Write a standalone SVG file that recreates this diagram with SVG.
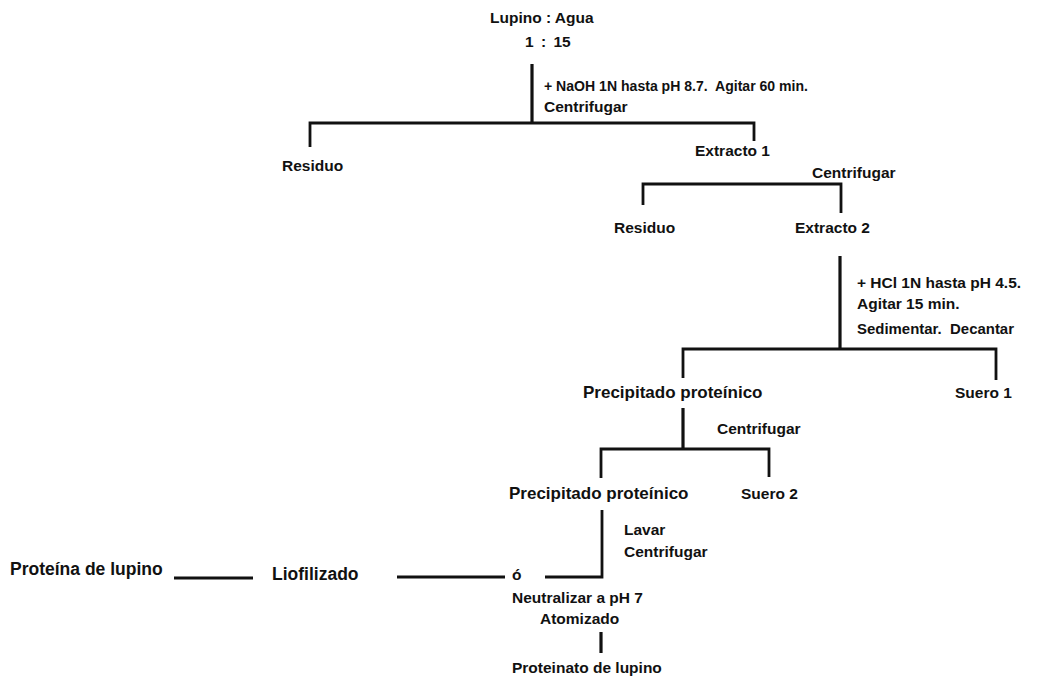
<svg xmlns="http://www.w3.org/2000/svg" width="1060" height="683" viewBox="0 0 1060 683">
<style>
text{font-family:"Liberation Sans",Arial,sans-serif;font-weight:bold;font-size:15.5px;fill:#111;}
.big{font-size:17px;}
.ln{stroke:#111;stroke-width:2.8;fill:none;stroke-linecap:butt;stroke-linejoin:miter;}
.st{stroke:#111;stroke-width:3.2;fill:none;}
</style>
<rect width="1060" height="683" fill="#fff"/>
<g id="connectors">
<path class="st" d="M532,64V123"/>
<path class="ln" d="M310,147V123H754V141"/>
<path class="ln" d="M643,205V184H841V213"/>
<path class="st" d="M840,256V349"/>
<path class="ln" d="M683,378V349H996V380"/>
<path class="st" d="M683,408V449"/>
<path class="ln" d="M601,478V449H769V477"/>
<path class="ln" d="M545,577H602V510"/>
<path class="ln" d="M397,577H505"/>
<path class="ln" d="M174,578H253"/>
<path class="st" d="M601,632V653"/>
</g>
<g id="n-start"><text x="490" y="23">Lupino : Agua</text><text x="525" y="47" style="word-spacing:3px">1 : 15</text></g>
<g id="step1"><text x="544" y="91" xml:space="preserve" textLength="264" lengthAdjust="spacingAndGlyphs">+ NaOH 1N hasta pH 8.7.  Agitar 60 min.</text><text x="544" y="112">Centrifugar</text></g>
<g id="residuo1"><text x="282" y="171">Residuo</text></g>
<g id="extracto1"><text x="695" y="156">Extracto 1</text></g>
<g id="step2"><text x="812" y="178">Centrifugar</text></g>
<g id="residuo2"><text x="614" y="233">Residuo</text></g>
<g id="extracto2"><text x="795" y="233">Extracto 2</text></g>
<g id="step3"><text x="857" y="288">+ HCl 1N hasta pH 4.5.</text><text x="857" y="309">Agitar 15 min.</text><text x="857" y="334" xml:space="preserve" textLength="157" lengthAdjust="spacingAndGlyphs">Sedimentar.  Decantar</text></g>
<g id="precip1"><text class="big" x="583" y="398">Precipitado proteínico</text></g>
<g id="suero1"><text x="955" y="398">Suero 1</text></g>
<g id="step4"><text x="717" y="434">Centrifugar</text></g>
<g id="precip2"><text class="big" x="509" y="499">Precipitado proteínico</text></g>
<g id="suero2"><text x="741" y="499">Suero 2</text></g>
<g id="step5"><text x="624" y="535">Lavar</text><text x="624" y="557">Centrifugar</text></g>
<g id="proteina"><text class="big" x="10" y="575" style="font-size:17.5px">Proteína de lupino</text></g>
<g id="liofilizado"><text class="big" x="272" y="580" style="font-size:17.5px">Liofilizado</text></g>
<g id="o"><text x="512" y="580">ó</text></g>
<g id="neutral"><text x="512" y="603">Neutralizar a pH 7</text><text x="540" y="624">Atomizado</text></g>
<g id="proteinato"><text x="512" y="673">Proteinato de lupino</text></g>
</svg>
